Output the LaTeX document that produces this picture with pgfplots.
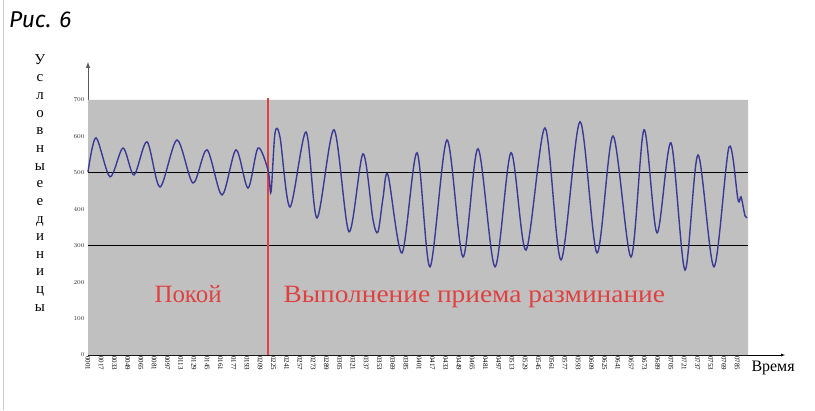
\documentclass[border=0pt]{standalone}
\usepackage{pgfplots}
\pgfplotsset{compat=1.18}
\usepackage{fontspec}
\setmainfont{Liberation Serif}
\newfontfamily\titlefont{Fira Sans}
\definecolor{bggray}{RGB}{192,192,192}
\definecolor{sigblue}{RGB}{58,58,150}
\definecolor{markred}{RGB}{224,64,64}

\begin{document}
\begin{tikzpicture}[x=1bp,y=1bp]
\useasboundingbox (0,0) rectangle (815,410);
\draw[gray!40] (3,0) -- (3,410);
\node[anchor=base west,font=\titlefont\itshape\fontsize{23}{27}\selectfont,inner sep=0pt] at (9,383) {Рис. 6};
\node[anchor=north,align=center,font=\fontsize{15}{17.7}\selectfont] at (40,359)
  {У\\с\\л\\о\\в\\н\\ы\\е\\е\\д\\и\\н\\и\\ц\\ы};
\node[anchor=base west,font=\fontsize{16}{19}\selectfont] at (748,39) {Время};

\begin{axis}[
    at={(88bp,55bp)}, anchor=south west,
    scale only axis,
    width=697bp, height=293bp,
    xmin=0, xmax=697,
    ymin=0, ymax=804,
    axis lines=left,
    x axis line style={-latex,black},
    y axis line style={-latex,gray!70!black,line width=1pt},
    ytick={0,100,...,700},
    xtick={0,13.25,...,650},
    xticklabels={0001,0017,0033,0049,0065,0081,0097,0113,0129,0145,0161,0177,0193,0209,0225,0241,0257,0273,0289,0305,0321,0337,0353,0369,0385,0401,0417,0433,0449,0465,0481,0497,0513,0529,0545,0561,0577,0593,0609,0625,0641,0657,0673,0689,0705,0721,0737,0753,0769,0785},
    minor x tick num=3,
    tick align=inside,
    major tick length=2bp, minor tick length=2bp,
    ytick style={draw=none},
    xtick style={black!80},
    x tick label style={rotate=-90,anchor=west,font=\fontsize{7}{8}\selectfont,inner sep=1pt},
    y tick label style={font=\fontsize{6}{7}\selectfont,text=black!80},
    clip=false,
]
\addplot[fill=bggray,draw=none] coordinates {(0,0) (660,0) (660,700) (0,700)} \closedcycle;
\addplot[black,line width=1pt] coordinates {(0,500) (660,500)};
\addplot[black,line width=1pt] coordinates {(0,300) (660,300)};
\addplot[markred,line width=1.5pt] coordinates {(180,0) (180,706)};
\addplot[sigblue,line width=1.4pt,smooth,tension=0.5] coordinates {
 (0,502) (8,596) (22,489) (35,568) (46,494) (59,585) (72,461) (89,590)
 (105,472) (119,563) (134,439) (148,563) (160,458) (170,568) (180,508)
 (183,447) (187,609) (192,598) (202,406) (218,612) (229,376) (246,618)
 (261,338) (275,552) (285,371) (290,338) (295,431) (300,494) (314,280)
 (329,555) (342,242) (359,590) (375,269) (390,566) (407,242) (423,555)
 (438,288) (457,623) (473,261) (492,640) (509,280) (525,601) (543,269)
 (556,618) (569,335) (583,582) (597,233) (610,549) (626,242) (641,571)
 (650,426) (653,434) (657,382) (659,379)
};
\node[anchor=base west,text=markred,font=\fontsize{25}{29}\selectfont] at (axis cs:63,143) {Покой};
\node[anchor=base west,text=markred,font=\fontsize{25}{29}\selectfont] at (axis cs:192,143) {\scalebox{1.1}[1]{Выполнение приема разминание}};
\end{axis}
\end{tikzpicture}
\end{document}
